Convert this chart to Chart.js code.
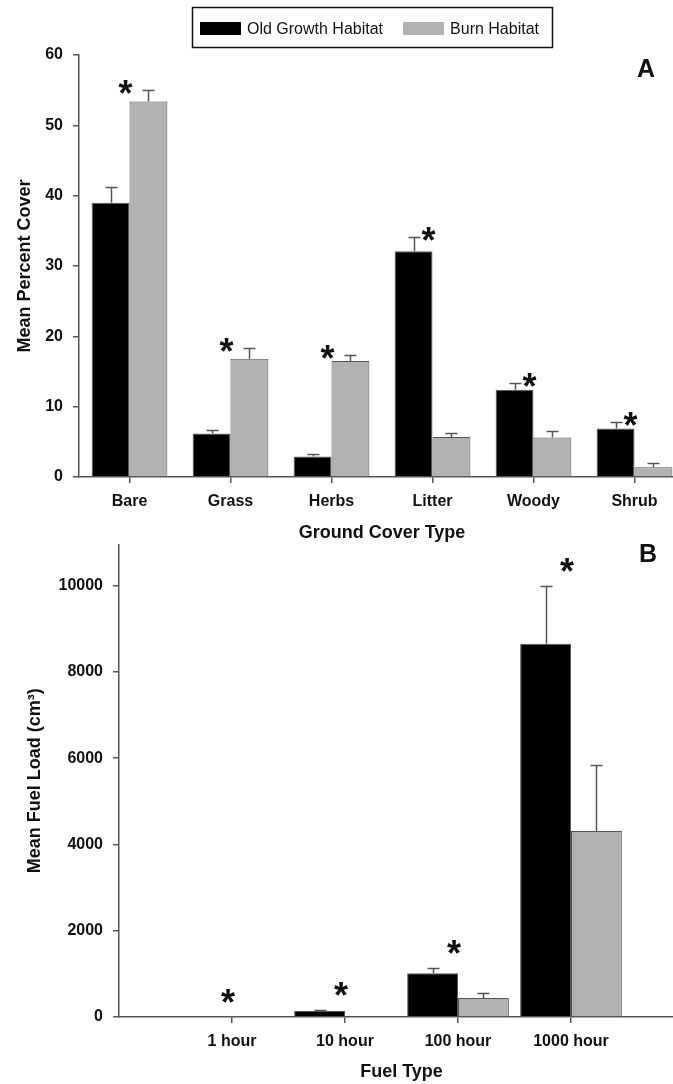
<!DOCTYPE html>
<html>
<head>
<meta charset="utf-8">
<script src="https://cdn.jsdelivr.net/npm/chart.js@4.4.0/dist/chart.umd.min.js"></script>
<style>
	html, body { margin: 0; padding: 0; background: #fff; }
	#page { position: relative; width: 673px; height: 1084px; overflow: hidden; }
	.panel { position: absolute; left: 0; width: 700px; }
	#panelA { top: 0; height: 545px; }
	#panelB { top: 525px; height: 559px; }
</style>
</head>
<body>
<div id="page">
	<div class="panel" id="panelA"><canvas id="chartA"></canvas></div>
	<div class="panel" id="panelB"><canvas id="chartB"></canvas></div>
</div>
<script>
// Panel A: mean percent ground cover
var coverTypes = ['Bare', 'Grass', 'Herbs', 'Litter', 'Woody', 'Shrub'];
var oldGrowthCover = [39.0, 6.2, 2.9, 32.1, 12.4, 6.9];
var oldGrowthCoverErr = [2.2, 0.5, 0.4, 2.0, 1.0, 0.9];
var burnCover = [53.4, 16.8, 16.5, 5.7, 5.6, 1.4];
var burnCoverErr = [1.6, 1.5, 0.8, 0.5, 0.9, 0.6];
var coverSignificant = [true, true, true, true, true, true];
var coverTicks = [0, 10, 20, 30, 40, 50, 60];

// Panel B: mean fuel load
var fuelTypes = ['1 hour', '10 hour', '100 hour', '1000 hour'];
var oldGrowthFuel = [0, 140, 1015, 8650];
var oldGrowthFuelErr = [0, 20, 120, 1340];
var burnFuel = [0, 20, 440, 4310];
var burnFuelErr = [0, 0, 125, 1540];
var fuelSignificant = [true, true, true, true];
var fuelTicks = [0, 2000, 4000, 6000, 8000, 10000];

var seriesNames = ['Old Growth Habitat', 'Burn Habitat'];
var seriesColors = ['#000000', '#b2b2b2'];

var FONT = '"Liberation Sans", Arial, Helvetica, sans-serif';
var INK = '#111';
var AXIS = '#555';

// Upper-only error bars with a small cap
var errorBars = {
	id: 'errorBars',
	afterDatasetsDraw: function (chart) {
		var ctx = chart.ctx, yScale = chart.scales.y;
		ctx.save();
		ctx.strokeStyle = AXIS;
		ctx.lineWidth = 1.5;
		chart.data.datasets.forEach(function (ds, i) {
			var meta = chart.getDatasetMeta(i);
			meta.data.forEach(function (bar, j) {
				var err = ds.errors[j];
				if (!err) return;
				var val = meta.controller.getParsed(j).y;
				var yTop = Math.round(yScale.getPixelForValue(val + err)) + 0.5;
				var x = Math.round(bar.x) + 0.5;
				ctx.beginPath();
				ctx.moveTo(x, bar.y);
				ctx.lineTo(x, yTop);
				ctx.moveTo(x - 6, yTop);
				ctx.lineTo(x + 6, yTop);
				ctx.stroke();
			});
		});
		ctx.restore();
	}
};

// Significance asterisks above each pair of bars
var sigStars = {
	id: 'sigStars',
	afterDatasetsDraw: function (chart, args, opts) {
		if (!opts.flags) return;
		var ctx = chart.ctx, yScale = chart.scales.y;
		var m0 = chart.getDatasetMeta(0), m1 = chart.getDatasetMeta(1);
		var size = 36;
		ctx.save();
		ctx.fillStyle = INK;
		ctx.font = 'bold ' + size + 'px ' + FONT;
		ctx.textAlign = 'center';
		ctx.textBaseline = 'alphabetic';
		opts.flags.forEach(function (flag, j) {
			if (!flag) return;
			var top = Infinity;
			chart.data.datasets.forEach(function (ds, i) {
				var v = chart.getDatasetMeta(i).controller.getParsed(j).y + (ds.errors[j] || 0);
				top = Math.min(top, yScale.getPixelForValue(v));
			});
			var x = (m0.data[j].x + m1.data[j].x) / 2 - 4;
			var cy = top - opts.gap;
			ctx.fillText('*', x, cy + 0.58 * size);
		});
		ctx.restore();
	}
};

// Panel letter and (panel A only) the boxed legend
var panelDecor = {
	id: 'panelDecor',
	afterDraw: function (chart, args, opts) {
		var ctx = chart.ctx;
		ctx.save();
		ctx.fillStyle = INK;
		ctx.font = 'bold 25px ' + FONT;
		ctx.textAlign = 'center';
		ctx.textBaseline = 'middle';
		ctx.fillText(opts.letter, opts.letterX, opts.letterY);

		if (opts.legend) {
			ctx.font = '16px ' + FONT;
			ctx.textAlign = 'left';
			var x = 200, sw = 41, sh = 13, top = 22;
			chart.data.datasets.forEach(function (ds) {
				ctx.fillStyle = ds.backgroundColor;
				ctx.fillRect(x, top, sw, sh);
				ctx.fillStyle = INK;
				ctx.fillText(ds.label, x + sw + 6, top + sh / 2 + 1);
				x += sw + 6 + ctx.measureText(ds.label).width + 20;
			});
			ctx.strokeStyle = INK;
			ctx.lineWidth = 1.5;
			ctx.strokeRect(192.5, 7.5, x - 20 + 13 - 192, 40);
		}
		ctx.restore();
	}
};

function tickFont() {
	return { family: FONT, size: 16, weight: 'bold' };
}

function titleFont() {
	return { family: FONT, size: 18, weight: 'bold' };
}

function buildDatasets(a, aErr, b, bErr, toPoint) {
	return [
		{ label: seriesNames[0], data: a.map(toPoint), errors: aErr, backgroundColor: seriesColors[0] },
		{ label: seriesNames[1], data: b.map(toPoint), errors: bErr, backgroundColor: seriesColors[1] }
	].map(function (ds) {
		ds.borderColor = AXIS;
		ds.borderWidth = 1;
		return ds;
	});
}

// ---- Chart A ----
new Chart(document.getElementById('chartA'), {
	type: 'bar',
	data: {
		labels: coverTypes,
		datasets: buildDatasets(oldGrowthCover, oldGrowthCoverErr, burnCover, burnCoverErr, function (v) { return v; })
	},
	options: {
		responsive: true,
		maintainAspectRatio: false,
		animation: false,
		datasets: { bar: { categoryPercentage: 0.75, barPercentage: 1.0 } },
		layout: { padding: { top: 55, right: 15, left: 0, bottom: 0 } },
		plugins: {
			legend: { display: false },
			tooltip: { enabled: false },
			sigStars: { flags: coverSignificant, gap: 5 },
			panelDecor: { letter: 'A', letterX: 646, letterY: 70, legend: true }
		},
		scales: {
			x: {
				type: 'category',
				offset: true,
				grid: { display: true, offset: false, drawOnChartArea: false, drawTicks: true, tickLength: 6, color: AXIS, lineWidth: 1.5 },
				border: { display: true, color: AXIS, width: 1.5 },
				ticks: { font: tickFont(), color: INK, padding: 9, maxRotation: 0, autoSkip: false },
				title: { display: true, text: 'Ground Cover Type', font: titleFont(), color: INK, padding: { top: 0, bottom: 1 } },
				afterFit: function (s) { s.height = 68; }
			},
			y: {
				min: 0,
				max: 60,
				bounds: 'data',
				afterBuildTicks: function (s) { s.ticks = coverTicks.map(function (v) { return { value: v }; }); },
				grid: { display: true, drawOnChartArea: false, drawTicks: true, tickLength: 6, color: AXIS, lineWidth: 1.5 },
				border: { display: true, color: AXIS, width: 1.5 },
				ticks: { font: tickFont(), color: INK, padding: 10, callback: function (v) { return String(v); } },
				title: { display: true, text: 'Mean Percent Cover', font: titleFont(), color: INK, padding: { top: 14, bottom: 0 } },
				afterFit: function (s) { s.width = 79; }
			}
		}
	},
	plugins: [errorBars, sigStars, panelDecor]
});

// ---- Chart B ----
new Chart(document.getElementById('chartB'), {
	type: 'bar',
	data: {
		datasets: buildDatasets(oldGrowthFuel, oldGrowthFuelErr, burnFuel, burnFuelErr, function (v, i) { return { x: i + 1, y: v }; })
	},
	options: {
		responsive: true,
		maintainAspectRatio: false,
		animation: false,
		datasets: { bar: { categoryPercentage: 0.9, barPercentage: 1.0 } },
		layout: { padding: { top: 18, right: 16, left: 0, bottom: 0 } },
		plugins: {
			legend: { display: false },
			tooltip: { enabled: false },
			sigStars: { flags: fuelSignificant, gap: 23 },
			panelDecor: { letter: 'B', letterX: 648, letterY: 30, legend: false }
		},
		scales: {
			x: {
				type: 'linear',
				offset: false,
				min: 0,
				max: fuelTypes.length + 1,
				bounds: 'data',
				afterBuildTicks: function (s) { s.ticks = fuelTypes.map(function (t, i) { return { value: i + 1 }; }); },
				grid: { display: true, offset: false, drawOnChartArea: false, drawTicks: true, tickLength: 6, color: AXIS, lineWidth: 1.5 },
				border: { display: true, color: AXIS, width: 1.5 },
				ticks: {
					font: tickFont(), color: INK, padding: 9, maxRotation: 0, autoSkip: false,
					callback: function (value) { return fuelTypes[value - 1]; }
				},
				title: { display: true, text: 'Fuel Type', font: titleFont(), color: INK, padding: { top: 0, bottom: 1 } },
				afterFit: function (s) { s.height = 67; }
			},
			y: {
				min: 0,
				max: 10950,
				bounds: 'data',
				afterBuildTicks: function (s) { s.ticks = fuelTicks.map(function (v) { return { value: v }; }); },
				grid: { display: true, drawOnChartArea: false, drawTicks: true, tickLength: 6, color: AXIS, lineWidth: 1.5 },
				border: { display: true, color: AXIS, width: 1.5 },
				ticks: { font: tickFont(), color: INK, padding: 10, callback: function (v) { return String(v); } },
				title: { display: true, text: 'Mean Fuel Load (cm³)', font: titleFont(), color: INK, padding: { top: 24, bottom: 0 } },
				afterFit: function (s) { s.width = 119; }
			}
		}
	},
	plugins: [errorBars, sigStars, panelDecor]
});
</script>
</body>
</html>
